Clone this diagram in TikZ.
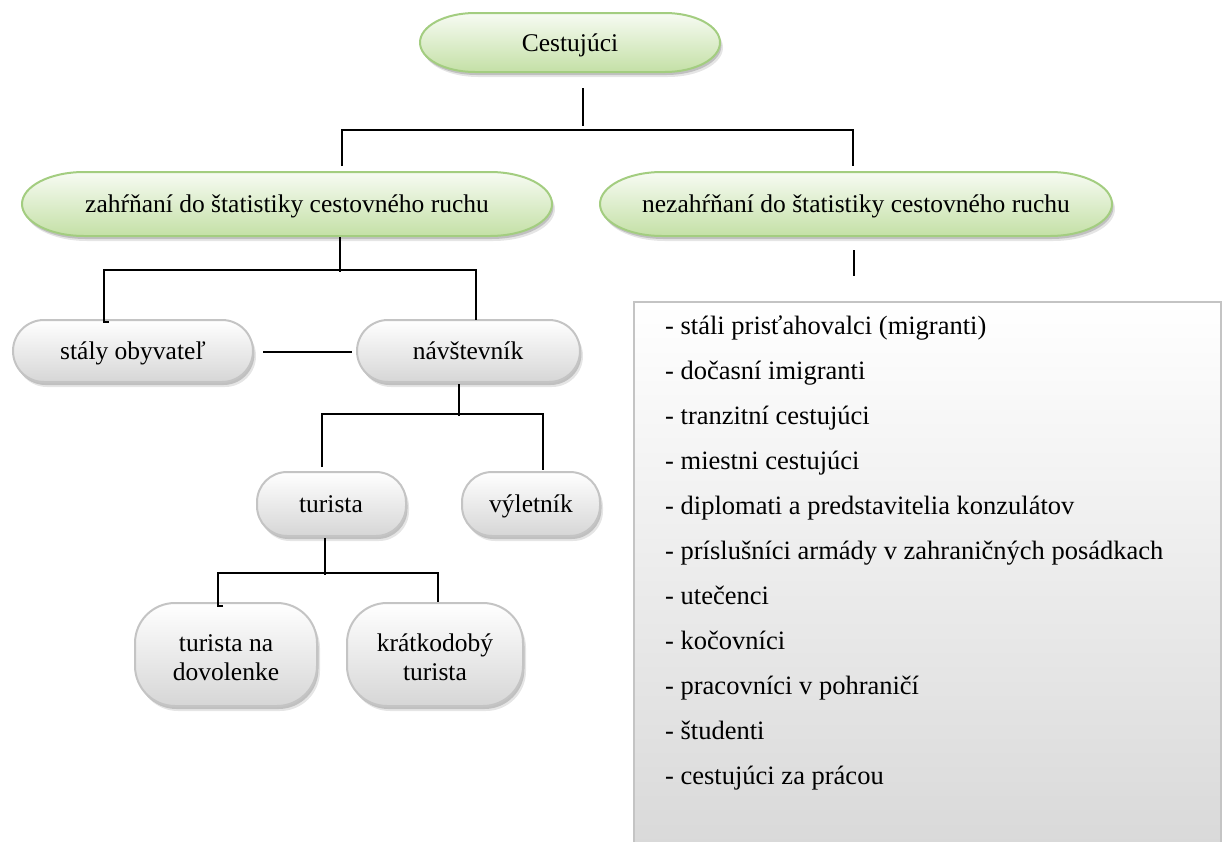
\documentclass[tikz,border=0pt]{standalone}
\usepackage{fontspec}
\setmainfont{Liberation Serif}
\definecolor{gtop}{RGB}{247,251,243}
\definecolor{gbot}{RGB}{196,224,166}
\definecolor{gedge}{RGB}{163,205,128}
\definecolor{stop}{RGB}{255,255,255}
\definecolor{sbot}{RGB}{214,214,214}
\definecolor{sedge}{RGB}{196,196,196}
\definecolor{ltop}{RGB}{255,255,255}
\definecolor{lbot}{RGB}{216,216,216}
% rounded box with elliptical corners: x1,y1,x2,y2,rx,ry
\newcommand\capsulepath[6]{({#1+#5},#2) -- ({#3-#5},#2)
  arc[start angle=-90,end angle=0,x radius=#5,y radius=#6] -- (#3,{#4-#6})
  arc[start angle=0,end angle=90,x radius=#5,y radius=#6] -- ({#1+#5},#4)
  arc[start angle=90,end angle=180,x radius=#5,y radius=#6] -- (#1,{#2+#6})
  arc[start angle=180,end angle=270,x radius=#5,y radius=#6] -- cycle}
% box with soft shadow and vertical gradient
\newcommand\capsulebox[9]{%
  \fill[black,opacity=0.10,shift={(3,5)}] \capsulepath{#1}{#2}{#3}{#4}{#5}{#6};
  \fill[black,opacity=0.16,shift={(1.5,3)}] \capsulepath{#1}{#2}{#3}{#4}{#5}{#6};
  \shadedraw[top color=#7,bottom color=#8,draw=#9,line width=2pt] \capsulepath{#1}{#2}{#3}{#4}{#5}{#6};}
\begin{document}
\begin{tikzpicture}[x=1pt,y=-1pt,
  lbl/.style={font=\fontsize{25.5}{29}\selectfont,inner sep=0pt,text height=20pt,text depth=3pt},
  lbltwo/.style={font=\fontsize{25.5}{29}\selectfont,inner sep=0pt,align=center},
  item/.style={font=\fontsize{26.5}{30}\selectfont,inner sep=0pt,anchor=base west},
  conn/.style={line width=1.8pt,black}]
\useasboundingbox (0,0) rectangle (1224,841);
\clip (0,0) rectangle (1224,841);

% green category boxes
\capsulebox{420}{13}{720}{72}{55}{29.5}{gtop}{gbot}{gedge}
\capsulebox{22}{172}{552}{236}{62}{32}{gtop}{gbot}{gedge}
\capsulebox{600}{172}{1112}{236}{62}{32}{gtop}{gbot}{gedge}
% grey boxes
\capsulebox{13}{320}{253}{382}{31}{31}{stop}{sbot}{sedge}
\capsulebox{357}{320}{580}{382}{31}{31}{stop}{sbot}{sedge}
\capsulebox{257}{472}{406}{536}{30}{30}{stop}{sbot}{sedge}
\capsulebox{462}{472}{600}{536}{30}{30}{stop}{sbot}{sedge}
\capsulebox{135}{603}{317}{706}{40}{40}{stop}{sbot}{sedge}
\capsulebox{347}{603}{523}{706}{40}{40}{stop}{sbot}{sedge}

% labels
\node[lbl] (root) at (570,43) {Cestujúci};
\node[lbl] (inc) at (287,204) {zahŕňaní do štatistiky cestovného ruchu};
\node[lbl] (exc) at (856,204) {nezahŕňaní do štatistiky cestovného ruchu};
\node[lbl] (res) at (133,351) {stály obyvateľ};
\node[lbl] (vis) at (468,351) {návštevník};
\node[lbl] (tur) at (331,504) {turista};
\node[lbl] (day) at (531,504) {výletník};
\node[lbltwo] (hol) at (226,660) {\strut turista na\\\strut dovolenke};
\node[lbltwo] (sht) at (435,660) {\strut krátkodobý\\\strut turista};

% list of excluded travellers
\shadedraw[top color=ltop,bottom color=lbot,draw=sedge,line width=2pt]
  (634,302) rectangle (1221,860);
\foreach \t [count=\i from 0] in {%
  - stáli prisťahovalci (migranti),
  - dočasní imigranti,
  - tranzitní cestujúci,
  - miestni cestujúci,
  - diplomati a predstavitelia konzulátov,
  - príslušníci armády v zahraničných posádkach,
  - utečenci,
  - kočovníci,
  - pracovníci v pohraničí,
  - študenti,
  - cestujúci za prácou}
  \node[item] (l\i) at (665,{334+45*\i}) {\t};

% connectors
\coordinate (a0) at (583,88);   \coordinate (a1) at (583,126);
\coordinate (a2) at (342,130);  \coordinate (a3) at (853,130);
\coordinate (a4) at (342,166);  \coordinate (a5) at (853,166);
\draw[conn] (a0) -- (a1);
\draw[conn] (a4) -- (a2) -- (a3) -- (a5);

\coordinate (b0) at (340,237);  \coordinate (b1) at (340,272);
\coordinate (b2) at (104,270);  \coordinate (b3) at (476,270);
\coordinate (b4) at (104,322);  \coordinate (b5) at (109,322);
\coordinate (b6) at (476,320);
\draw[conn] (b0) -- (b1);
\draw[conn] (b5) -- (b4) -- (b2) -- (b3) -- (b6);

\coordinate (c0) at (263,352);  \coordinate (c1) at (352,352);
\draw[conn] (c0) -- (c1);

\coordinate (d0) at (459,384);  \coordinate (d1) at (459,416);
\coordinate (d2) at (322,414);  \coordinate (d3) at (543,414);
\coordinate (d4) at (322,467);  \coordinate (d5) at (543,470);
\draw[conn] (d0) -- (d1);
\draw[conn] (d4) -- (d2) -- (d3) -- (d5);

\coordinate (e0) at (325,538);  \coordinate (e1) at (325,575);
\coordinate (e2) at (218,573);  \coordinate (e3) at (438,573);
\coordinate (e4) at (218,606);  \coordinate (e5) at (223,606);
\coordinate (e6) at (438,602);
\draw[conn] (e0) -- (e1);
\draw[conn] (e5) -- (e4) -- (e2) -- (e3) -- (e6);

\coordinate (f0) at (854,250);  \coordinate (f1) at (854,276);
\draw[conn] (f0) -- (f1);
\end{tikzpicture}
\end{document}
